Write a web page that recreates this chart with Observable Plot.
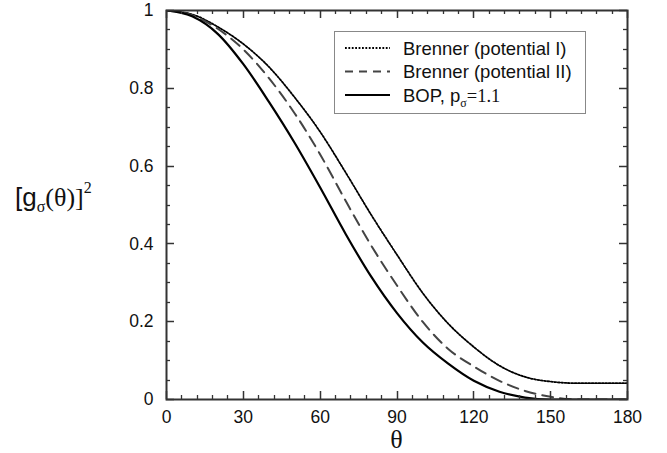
<!DOCTYPE html>
<html><head><meta charset="utf-8">
<script src="https://cdn.jsdelivr.net/npm/d3@7"></script>
<script src="https://cdn.jsdelivr.net/npm/@observablehq/plot@0.6"></script>
<style>body{margin:0;background:#fff} #chart svg{display:block;background:#fff}</style>
</head><body><div id="chart"></div>
<script>
// ---- data ----
const theta     = [0,10,20,30,40,50,60,70,80,90,100,110,120,130,140,150,160,170,180];
const brennerI  = [1.0,0.99,0.958,0.914,0.855,0.777,0.688,0.583,0.474,0.372,0.274,0.195,0.135,0.087,0.058,0.046,0.042,0.042,0.042];
const brennerII = [1.0,0.988,0.953,0.9,0.826,0.736,0.63,0.51,0.395,0.293,0.2,0.13,0.085,0.048,0.022,0.007,0.0,0.0,0.0];
const bop       = [1.0,0.985,0.94,0.862,0.765,0.66,0.545,0.425,0.315,0.222,0.147,0.092,0.048,0.02,0.005,0.0,0.0,0.0,0.0];
const seriesNames = ["Brenner (potential I)", "Brenner (potential II)", "BOP"];
const xTickValues = [0,30,60,90,120,150,180];
const xTickLabels = ["0","30","60","90","120","150","180"];
const xMinorTicks = [6,12,18,24,36,42,48,54,66,72,78,84,96,102,108,114,126,132,138,144,156,162,168,174];
const yTickValues = [0,0.2,0.4,0.6,0.8,1];
const yTickLabels = ["0","0.2","0.4","0.6","0.8","1"];
const yMinorTicks = [0.05,0.1,0.15,0.25,0.3,0.35,0.45,0.5,0.55,0.65,0.7,0.75,0.85,0.9,0.95];

// ---- build ----
const rows = (vals, name) => theta.map((t, i) => ({theta: t, value: vals[i], series: name}));
const dI = rows(brennerI, seriesNames[0]);
const dII = rows(brennerII, seriesNames[1]);
const dB = rows(bop, seriesNames[2]);

const W = 667, H = 453;
const mL = 166, mR = 40, mT = 10, mB = 54;
const pw = W - mL - mR, ph = H - mT - mB;
const axisColor = "#333";
const majorLen = 8, minorLen = 4;

const chart = Plot.plot({
  width: W, height: H,
  marginLeft: mL, marginRight: mR, marginTop: mT, marginBottom: mB,
  style: {fontFamily: "'Liberation Sans', Arial, Helvetica, sans-serif", fontSize: "17.5px", color: "#111", background: "#fff"},
  x: {domain: [0, 180]},
  y: {domain: [0, 1]},
  marks: [
    Plot.line(dI, {x: "theta", y: "value", stroke: "#000", strokeWidth: 1.8, strokeDasharray: "1.8,1.6", curve: "monotone-x", clip: true}),
    Plot.line(dII, {x: "theta", y: "value", stroke: "#444", strokeWidth: 2, strokeDasharray: "11,7", curve: "monotone-x", clip: true}),
    Plot.line(dB, {x: "theta", y: "value", stroke: "#000", strokeWidth: 2.2, curve: "monotone-x", clip: true}),
    Plot.frame({stroke: axisColor, strokeWidth: 2}),
    Plot.axisX(xTickValues, {tickSize: 0, tickPadding: 11, label: null, tickFormat: d => xTickLabels[xTickValues.indexOf(d)]}),
    Plot.axisY(yTickValues, {tickSize: 0, tickPadding: 13, label: null, tickFormat: d => yTickLabels[yTickValues.indexOf(d)]})
  ]
});

const svg = d3.select(chart);
const sx = chart.scale("x"), sy = chart.scale("y");
const x0 = sx.apply(0), x1 = sx.apply(180), y0 = sy.apply(0), y1 = sy.apply(1);

// inward ticks on all four sides, placed through Plot's own scales
const tg = svg.append("g").attr("stroke", axisColor).attr("fill", "none");
const addX = (vals, len, sw) => vals.forEach(v => {
  const px = Math.round(sx.apply(v)) + 0.5;
  tg.append("line").attr("x1", px).attr("x2", px).attr("y1", y0).attr("y2", y0 - len).attr("stroke-width", sw);
  tg.append("line").attr("x1", px).attr("x2", px).attr("y1", y1).attr("y2", y1 + len).attr("stroke-width", sw);
});
const addY = (vals, len, sw) => vals.forEach(v => {
  const py = Math.round(sy.apply(v)) + 0.5;
  tg.append("line").attr("y1", py).attr("y2", py).attr("x1", x0).attr("x2", x0 + len).attr("stroke-width", sw);
  tg.append("line").attr("y1", py).attr("y2", py).attr("x1", x1).attr("x2", x1 - len).attr("stroke-width", sw);
});
addX(xTickValues, majorLen, 1.5);
addX(xMinorTicks, minorLen, 1.3);
addY(yTickValues, majorLen, 1.5);
addY(yMinorTicks, minorLen, 1.3);

const serif = "'Liberation Serif', 'Times New Roman', serif";
const sans = "'Liberation Sans', Arial, sans-serif";
// x-axis label θ
svg.append("text").attr("x", (x0 + x1) / 2).attr("y", 448).attr("text-anchor", "middle")
  .attr("font-family", serif).attr("font-size", 26).attr("fill", "#111").text("θ");
// y-axis label [gσ(θ)]²
const yl = svg.append("text").attr("x", 15).attr("y", 206).attr("fill", "#111")
  .attr("font-size", 26).attr("text-anchor", "start");
yl.append("tspan").attr("font-family", sans).text("[g");
yl.append("tspan").attr("font-family", serif).attr("font-size", 16).attr("dy", 6).text("σ");
yl.append("tspan").attr("font-family", serif).attr("dy", -6).text("(θ)]");
yl.append("tspan").attr("font-family", serif).attr("font-size", 16).attr("dy", -13).text("2");

// legend
const lg = svg.append("g").attr("text-anchor", "start");
lg.append("rect").attr("x", 334.5).attr("y", 31.5).attr("width", 251).attr("height", 82)
  .attr("fill", "#fff").attr("stroke", "#888").attr("stroke-width", 1);
const legendItems = [
  {label: seriesNames[0], stroke: "#000", dash: "1.8,1.6", w: 1.8},
  {label: seriesNames[1], stroke: "#444", dash: "8,6", w: 2},
  {label: seriesNames[2], stroke: "#000", dash: null, w: 2.2}
];
legendItems.forEach((it, i) => {
  const cy = 48 + i * 23.5;
  lg.append("line").attr("x1", 345).attr("x2", 390).attr("y1", cy).attr("y2", cy)
    .attr("stroke", it.stroke).attr("stroke-width", it.w).attr("stroke-dasharray", it.dash);
  const t = lg.append("text").attr("x", 403).attr("y", cy + 6.5).attr("font-size", 18.5)
    .attr("font-family", sans).attr("fill", "#111").attr("text-anchor", "start");
  if (i < 2) t.text(it.label);
  else {
    t.append("tspan").text(it.label + ", p");
    t.append("tspan").attr("font-family", serif).attr("font-size", 12).attr("dy", 5).text("σ");
    t.append("tspan").attr("font-family", serif).attr("dy", -5).text("=1.1");
  }
});

document.getElementById("chart").appendChild(chart);
</script>
</body></html>
